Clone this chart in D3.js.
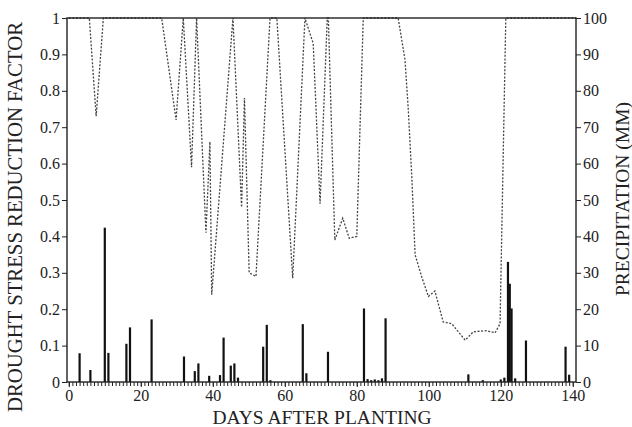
<!DOCTYPE html>
<html>
<head>
<meta charset="utf-8">
<script src="https://cdn.jsdelivr.net/npm/d3@7"></script>
<style>
  body { margin: 0; background: #fff; }
  text { font-family: "Liberation Serif", "Times New Roman", serif; fill: #222; }
</style>
</head>
<body>
<svg id="chart" width="632" height="427"></svg>
<script>
// drought stress reduction factor (left axis)
const stressDays = [0, 5.7, 7.6, 9.6, 25.8, 29.8, 31.8, 34.1, 35.5, 38.1, 39.2, 39.7, 45.6,
  48.0, 48.8, 50.1, 52.0, 55.9, 57.8, 62.2, 65.6, 67.9, 69.8, 71.8, 72.1, 73.9, 76.1, 77.9,
  80.0, 81.8, 91.5, 93.4, 94.3, 95.3, 96.2, 98.0, 99.9, 101.7, 104.0, 106.4, 110.1, 112.4,
  116.1, 118.4, 119.8, 121.4, 140.9];
const stressValues = [1, 1, 0.73, 1, 1, 0.72, 1, 0.59, 1, 0.41, 0.66, 0.24, 1,
  0.48, 0.78, 0.30, 0.29, 1, 1, 0.285, 1, 0.93, 0.49, 1, 1, 0.39, 0.45, 0.395,
  0.40, 1, 1, 0.885, 0.75, 0.56, 0.35, 0.29, 0.235, 0.25, 0.165, 0.16, 0.115, 0.138,
  0.141, 0.135, 0.16, 1, 1];

// daily precipitation (right axis, mm)
const rainDays = [3, 6, 10, 11, 16, 17, 23, 32, 35, 36, 39, 42, 43, 45, 46, 47,
  54, 55, 56, 65, 66, 72, 82, 83, 84, 85, 86, 87, 88,
  111, 115, 120, 121, 122, 122.5, 123, 124, 127, 138, 139];
const rainMm = [7.9, 3.3, 42.4, 8, 10.5, 15, 17.2, 7, 3, 5.1, 1.7, 1.9, 12.2, 4.5, 5.1, 1.2,
  9.7, 15.7, 0.5, 15.9, 2.4, 8.3, 20.2, 0.8, 0.5, 0.7, 0.5, 1, 17.5,
  2.1, 0.5, 0.7, 1.2, 33, 27, 20.2, 1, 11.4, 9.7, 2];

const dayTicks = [0, 20, 40, 60, 80, 100, 120, 140];
const factorTicks = [0, 0.1, 0.2, 0.3, 0.4, 0.5, 0.6, 0.7, 0.8, 0.9, 1];
const factorLabels = ["0", "0.1", "0.2", "0.3", "0.4", "0.5", "0.6", "0.7", "0.8", "0.9", "1"];
const rainTicks = [0, 10, 20, 30, 40, 50, 60, 70, 80, 90, 100];

const svg = d3.select("#chart"),
      width = +svg.attr("width"),
      height = +svg.attr("height"),
      margin = { top: 18, right: 56, bottom: 45, left: 67 };

const x = d3.scaleLinear()
  .domain([-0.5, 140.9])
  .range([margin.left, width - margin.right]);

const yFactor = d3.scaleLinear()
  .domain([0, 1])
  .range([height - margin.bottom, margin.top]);

const yRain = d3.scaleLinear()
  .domain([0, 100])
  .range([height - margin.bottom, margin.top]);

const ink = "#222";

//rain bars
svg.append("g")
  .selectAll("rect")
  .data(rainDays.map((d, i) => ({ day: d, mm: rainMm[i] })))
  .join("rect")
  .attr("x", d => x(d.day) - 1.1)
  .attr("width", 2.2)
  .attr("y", d => yRain(d.mm))
  .attr("height", d => yRain(0) - yRain(d.mm))
  .attr("fill", "#111");

//stress curve
const line = d3.line()
  .x(d => x(d[0]))
  .y(d => yFactor(d[1]));

svg.append("path")
  .datum(stressDays.map((d, i) => [d, stressValues[i]]))
  .attr("fill", "none")
  .attr("stroke", "#444")
  .attr("stroke-width", 1.3)
  .attr("stroke-dasharray", "2,1.6")
  .attr("d", line);

//frame
svg.append("rect")
  .attr("x", margin.left)
  .attr("y", margin.top)
  .attr("width", width - margin.left - margin.right)
  .attr("height", height - margin.top - margin.bottom)
  .attr("fill", "none")
  .attr("stroke", ink)
  .attr("stroke-width", 1.4);

function styleAxis(g, size) {
  g.select(".domain").remove();
  g.selectAll("line").attr("stroke", ink).attr("stroke-width", 1);
  g.selectAll("text").attr("font-size", size).attr("fill", ink)
    .attr("font-family", "'Liberation Serif', serif");
}

//minor day ticks
svg.append("g")
  .attr("transform", `translate(0,${height - margin.bottom})`)
  .call(d3.axisBottom(x).tickValues(d3.range(0, 141)).tickSize(4).tickFormat(""))
  .call(g => styleAxis(g, 16));

//x labels
svg.append("g")
  .attr("transform", `translate(0,${height - margin.bottom})`)
  .call(d3.axisBottom(x).tickValues(dayTicks).tickSize(5).tickPadding(3))
  .call(g => styleAxis(g, 16));

//left axis
svg.append("g")
  .attr("transform", `translate(${margin.left},0)`)
  .call(d3.axisLeft(yFactor).tickValues(factorTicks).tickSize(5).tickPadding(2)
    .tickFormat((d, i) => factorLabels[i]))
  .call(g => styleAxis(g, 16));

//right axis
svg.append("g")
  .attr("transform", `translate(${width - margin.right},0)`)
  .call(d3.axisRight(yRain).tickValues(rainTicks).tickSize(5).tickPadding(2))
  .call(g => styleAxis(g, 16));

//titles
svg.append("text")
  .attr("transform", `translate(15,217) rotate(-90)`)
  .attr("text-anchor", "middle")
  .attr("dominant-baseline", "central")
  .attr("font-size", 20)
  .attr("textLength", 390)
  .attr("lengthAdjust", "spacingAndGlyphs")
  .text("DROUGHT STRESS REDUCTION FACTOR");

svg.append("text")
  .attr("transform", `translate(622,199) rotate(-90)`)
  .attr("text-anchor", "middle")
  .attr("dominant-baseline", "central")
  .attr("font-size", 19.5)
  .text("PRECIPITATION (MM)");

svg.append("text")
  .attr("x", 322)
  .attr("y", height - 3)
  .attr("text-anchor", "middle")
  .attr("font-size", 19.5)
  .text("DAYS AFTER PLANTING");
</script>
</body>
</html>
